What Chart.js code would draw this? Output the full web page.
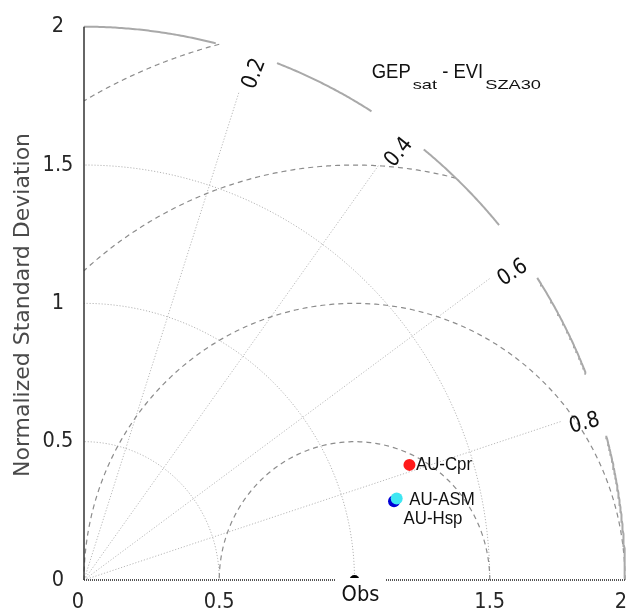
<!DOCTYPE html>
<html>
<head>
<meta charset="utf-8">
<script src="https://cdn.jsdelivr.net/npm/chart.js@4/dist/chart.umd.min.js"></script>
<style>
html,body{margin:0;padding:0;background:#fff;}
canvas{display:block;}
</style>
</head>
<body>
<canvas id="c" width="631" height="614"></canvas>
<script>
// ---- data ----
const xTicks = [0, 0.5, 1.5, 2];
const yTicks = [0, 0.5, 1, 1.5, 2];
const corrTicks = [0.2, 0.4, 0.6, 0.8];
const stdArcs = [0.5, 1, 1.5];
const rmsArcs = [0.5, 1, 1.5, 2];
const maxStd = 2;
const siteNames = ['AU-Cpr', 'AU-ASM', 'AU-Hsp'];
const siteStd = [1.273, 1.193, 1.181];
const siteCorr = [0.788, 0.841, 0.845];
const obsStd = 1;
const obsCorr = 1;
const titleMain = ['GEP', ' - EVI'];
const titleSub = ['sat', 'SZA30'];
const yTitle = 'Normalized Standard Deviation';

// ---- helpers ----
const DEG = Math.PI / 180;
function corrAngle(r) { return (1 - r) * Math.PI / 2; }
function polar(s, a) { return { x: s * Math.cos(a), y: s * Math.sin(a) }; }
function arc(cx, cy, rad, a0, a1, n) {
  const pts = [];
  for (let i = 0; i <= n; i++) {
    const a = a0 + (a1 - a0) * i / n;
    pts.push({ x: cx + rad * Math.cos(a), y: cy + rad * Math.sin(a) });
  }
  return pts;
}
function lineDs(data, color, width, dash, order) {
  return { type: 'scatter', data, showLine: true, borderColor: color, borderWidth: width,
    borderDash: dash, pointRadius: 0, pointHoverRadius: 0, tension: 0, fill: false,
    clip: false, order: order };
}

const datasets = [];
stdArcs.forEach(s => datasets.push(lineDs(arc(0, 0, s, 0, Math.PI / 2, 120), '#b4b4b4', 1, [1.2, 1.8], 20)));
corrTicks.forEach(r => {
  const a = corrAngle(r);
  datasets.push(lineDs([{ x: 0, y: 0 }, polar(maxStd * 0.9275, a)], '#b8b8b8', 1, [1.2, 1.8], 20));
});
rmsArcs.forEach(rho => {
  const c0 = Math.min(1, (maxStd * maxStd - obsStd * obsStd - rho * rho) / (2 * rho * obsStd));
  const c1 = Math.max(-1, -obsStd / rho);
  datasets.push(lineDs(arc(obsStd, 0, rho, Math.acos(c0), Math.acos(c1), 160), '#8c8c8c', 1.2, [5, 4], 15));
});
const bounds = [0];
corrTicks.slice().reverse().forEach(r => {
  const a = corrAngle(r);
  bounds.push(a - 2.9 * DEG, a + 3.9 * DEG);
});
bounds.push(Math.PI / 2);
for (let i = 0; i < bounds.length; i += 2) {
  datasets.push(lineDs(arc(0, 0, maxStd, bounds[i], bounds[i + 1], 60), '#a9a9a9', 2, [], 12));
}
datasets.push(lineDs([{ x: 0, y: 0 }, { x: 0, y: maxStd }], '#333333', 1.5, [], 10));
datasets.push(lineDs([{ x: 0, y: 0 }, { x: maxStd, y: 0 }], '#555555', 2, [1, 1], 10));
datasets.push({ type: 'scatter', data: [polar(obsStd, corrAngle(obsCorr))], pointRadius: 5,
  pointBackgroundColor: '#000', pointBorderWidth: 0, clip: 0, order: 5 });
const siteColors = ['#ff1a1a', '#3ee6f2', '#0000d6'];
const siteOrder = [1, 1, 2];
siteNames.forEach((n, i) => {
  datasets.push({ type: 'scatter', label: n, data: [polar(siteStd[i], corrAngle(siteCorr[i]))],
    pointRadius: 6, pointBackgroundColor: siteColors[i], pointBorderWidth: 0,
    pointHoverRadius: 6, clip: false, order: siteOrder[i] });
});

function txt(ctx, s, x, y, o) {
  ctx.save();
  ctx.translate(x, y);
  ctx.rotate(o.rot || 0);
  ctx.scale(o.sx || 1, 1);
  ctx.font = o.font;
  ctx.fillStyle = o.color || '#222';
  ctx.textAlign = o.align || 'center';
  ctx.textBaseline = o.baseline || 'middle';
  ctx.fillText(s, 0, 0);
  ctx.restore();
}
function wid(ctx, s, font, sx) { ctx.save(); ctx.font = font; const w = ctx.measureText(s).width * sx; ctx.restore(); return w; }

const textPlugin = {
  id: 'taylorText',
  afterDraw(chart) {
    const ctx = chart.ctx;
    const xs = chart.scales.x, ys = chart.scales.y;
    const tickFont = '22px "DejaVu Sans"';
    yTicks.forEach(v => txt(ctx, String(v), 58, ys.getPixelForValue(v), { font: tickFont, sx: 0.88, color: '#262626' }));
    xTicks.forEach((v, i) => {
      let px = xs.getPixelForValue(v);
      if (i === 0) px -= 6;
      if (i === xTicks.length - 1) px -= 4;
      txt(ctx, String(v), px, ys.getPixelForValue(0) + 22, { font: tickFont, sx: 0.88, color: '#262626' });
    });
    corrTicks.forEach(r => {
      const a = corrAngle(r) - 1 * DEG;
      const p = polar(maxStd * 0.9675, a);
      txt(ctx, String(r), xs.getPixelForValue(p.x), ys.getPixelForValue(p.y),
        { font: tickFont, sx: 0.88, color: '#111', rot: -(corrAngle(r) - 3 * DEG) });
    });
    txt(ctx, yTitle, 23, 305, { font: '22px "DejaVu Sans"', color: '#4a4a4a', rot: -Math.PI / 2 });
    // Obs label with white backing (covers the axis under it, as in the reference)
    const op = polar(obsStd, corrAngle(obsCorr));
    const ox = xs.getPixelForValue(op.x), oy = ys.getPixelForValue(op.y);
    ctx.save();
    ctx.fillStyle = '#fff';
    ctx.fillRect(ox - 19, oy - 2, 50, 36);
    ctx.restore();
    txt(ctx, 'Obs', ox + 6, oy + 16, { font: '20.5px "DejaVu Sans"', sx: 0.95, color: '#111' });
    const lblOff = [[6.5, 0], [12.5, 1], [9.5, 18]];
    siteNames.forEach((n, i) => {
      const p = polar(siteStd[i], corrAngle(siteCorr[i]));
      txt(ctx, n, xs.getPixelForValue(p.x) + lblOff[i][0], ys.getPixelForValue(p.y) + lblOff[i][1],
        { font: '18.5px "Liberation Sans"', sx: 0.91, color: '#111', align: 'left' });
    });
    const mf = '21px "Liberation Sans"', sf = '13.5px "Liberation Sans"';
    let x = 371.7;
    const base = 78.3, subBase = 89.3;
    for (let i = 0; i < titleMain.length; i++) {
      txt(ctx, titleMain[i], x, base, { font: mf, sx: 0.88, color: '#111', align: 'left', baseline: 'alphabetic' });
      x += wid(ctx, titleMain[i], mf, 0.88) + 2;
      txt(ctx, titleSub[i], x, subBase, { font: sf, sx: 1.35, color: '#111', align: 'left', baseline: 'alphabetic' });
      x += wid(ctx, titleSub[i], sf, 1.35);
    }
  }
};

new Chart(document.getElementById('c'), {
  type: 'scatter',
  data: { datasets },
  options: {
    responsive: false,
    animation: false,
    devicePixelRatio: 1,
    layout: { padding: { left: 84, right: 2.7, top: 26.7, bottom: 34 } },
    plugins: { legend: { display: false }, tooltip: { enabled: false }, title: { display: false } },
    scales: {
      x: { type: 'linear', min: 0, max: 2, display: false },
      y: { type: 'linear', min: 0, max: 2, display: false }
    },
    events: []
  },
  plugins: [textPlugin]
});
</script>
</body>
</html>
